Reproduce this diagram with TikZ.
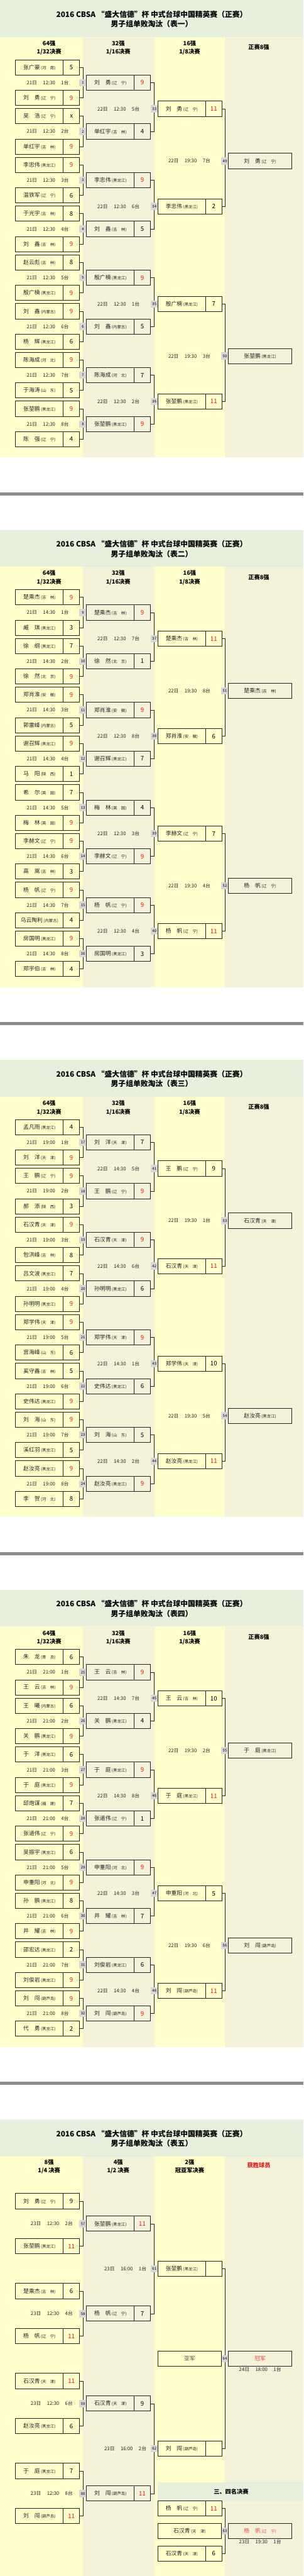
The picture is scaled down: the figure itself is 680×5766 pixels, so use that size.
\documentclass[tikz,border=0pt]{standalone}
\usepackage{fontspec}
\newfontfamily\cjk{Noto Sans CJK SC}
\usetikzlibrary{positioning}
\definecolor{bandgreen}{RGB}{231,239,221}
\definecolor{lightyellow}{RGB}{255,255,204}
\definecolor{beige}{RGB}{244,243,217}
\definecolor{numgray}{RGB}{215,215,215}
\definecolor{sepgray}{RGB}{140,140,140}
\definecolor{winred}{RGB}{228,24,24}
\definecolor{softred}{RGB}{226,72,72}
\definecolor{ink}{RGB}{35,35,35}
\newcommand{\win}[1]{\textcolor{winred}{#1}}
\newcommand{\pl}[2]{{\fontsize{6.2}{6.2}\selectfont #1}\hspace{1pt}{\fontsize{4.5}{4.5}\selectfont(#2)}}

\begin{document}
\begin{tikzpicture}[x=0.5pt,y=-0.5pt,
    name box/.style={draw=ink,line width=0.7pt,minimum width=53.5pt,minimum height=17pt,
      inner sep=0pt,outer sep=0pt,font=\cjk,text=ink},
    score box/.style={draw=ink,line width=0.7pt,minimum width=18pt,minimum height=17pt,
      inner sep=0pt,outer sep=0pt,font=\cjk\fontsize{6.8}{6.8}\selectfont,text=black},
    wide box/.style={name box,minimum width=71pt},
    match no/.style={fill=numgray,minimum size=8pt,inner sep=0pt,outer sep=0pt,
      font=\cjk\fontsize{4.2}{4.2}\selectfont},
    date text/.style={font=\cjk\fontsize{5.5}{5.5}\selectfont,text=ink,inner sep=0pt},
    bracket line/.style={draw=ink,line width=0.55pt},
    title text/.style={align=center,font=\cjk\bfseries\fontsize{8.3}{11}\selectfont},
    head text/.style={align=center,font=\cjk\bfseries\fontsize{6.5}{9.5}\selectfont}]

  \useasboundingbox (0,0) rectangle (680,5766);

  % panel backgrounds and titles
  \foreach \pan/\tabno in {0/一,1/二,2/三,3/四,4/五}{
    \pgfmathsetmacro\yoff{1186*\pan}
    \fill[bandgreen] (0,\yoff) rectangle (680,\yoff+83);
    \fill[lightyellow] (0,\yoff+83) rectangle (186,\yoff+1024);
    \fill[beige] (186,\yoff+83) rectangle (346,\yoff+1024);
    \fill[lightyellow] (346,\yoff+83) rectangle (504,\yoff+1024);
    \fill[beige] (504,\yoff+83) rectangle (680,\yoff+1024);
    \node[title text] (title\pan) at (340,\yoff+43)
      {2016 CBSA “盛大信德”杯 中式台球中国精英赛（正赛）\\男子组单败淘汰（表\tabno）};
  }
  \foreach \pan in {0,...,3}{
    \fill[sepgray] (0,1186*\pan+1102) rectangle (680,1186*\pan+1109);
    \node[head text] (hA\pan) at (110,1186*\pan+107.5) {64强\\1/32决赛};
    \node[head text] (hB\pan) at (265,1186*\pan+107.5) {32强\\1/16决赛};
    \node[head text] (hC\pan) at (425,1186*\pan+107.5) {16强\\1/8决赛};
    \node[head text] (hD\pan) at (580,1186*\pan+106) {正赛8强};
  }
  \node[head text] (hA4) at (110,4744+105.5) {8强\\1/4 决赛};
  \node[head text] (hB4) at (265,4744+105.5) {4强\\1/2 决赛};
  \node[head text] (hC4) at (425,4744+105.5) {2强\\冠亚军决赛};
  \node[head text,text=winred] (hD4) at (580,4744+103) {获胜球员};

  % 1/32 finals
  \foreach \mn/\nmA/\pvA/\scA/\nmB/\pvB/\scB/\tm in {
    1/张广豪/河　南/5/刘　勇/辽　宁/\win{9}/12:30,
    2/吴　浩/辽　宁/x/单红宇/吉　林/\win{9}/12:30,
    3/李忠伟/黑龙江/\win{9}/温铁军/辽　宁/6/12:30,
    4/于光宇/吉　林/8/刘　鑫/吉　林/\win{9}/12:30,
    5/赵云彪/吉　林/8/殷广楠/黑龙江/\win{9}/12:30,
    6/刘　鑫/内蒙古/\win{9}/杨　辉/黑龙江/6/12:30,
    7/陈海成/河　北/\win{9}/于海涛/山　东/5/12:30,
    8/张堃鹏/黑龙江/\win{9}/陈　强/辽　宁/4/12:30,
    9/楚乘杰/吉　林/\win{9}/臧　琪/黑龙江/3/14:30,
    10/徐　纲/黑龙江/7/徐　然/北　京/\win{9}/14:30,
    11/郑肖淮/安　徽/\win{9}/郭雷峰/内蒙古/5/14:30,
    12/谢召辉/黑龙江/\win{9}/马　阳/陕　西/1/14:30,
    13/希　尔/英　国/7/梅　林/英　国/\win{9}/14:30,
    14/李赫文/辽　宁/\win{9}/高　嵩/吉　林/3/14:30,
    15/杨　帆/辽　宁/\win{9}/乌云陶利/内蒙古/4/14:30,
    16/房国明/黑龙江/\win{9}/郑宇伯/吉　林/4/14:30,
    17/孟凡雨/黑龙江/4/刘　洋/天　津/\win{9}/19:00,
    18/王　鹏/辽　宁/\win{9}/郝　添/陕　西/3/19:00,
    19/石汉青/天　津/\win{9}/包洪峰/吉　林/8/19:00,
    20/吕文波/黑龙江/7/孙明明/黑龙江/\win{9}/19:00,
    21/郑学伟/天　津/\win{9}/宫海峰/山　东/6/19:00,
    22/奚守鑫/吉　林/5/史伟达/黑龙江/\win{9}/19:00,
    23/刘　海/山　东/\win{9}/溪红羽/黑龙江/5/19:00,
    24/赵汝亮/黑龙江/\win{9}/李　贺/河　北/8/19:00,
    25/朱　龙/青　岛/6/王　云/吉　林/\win{9}/21:00,
    26/王　曦/内蒙古/6/关　鹏/黑龙江/\win{9}/21:00,
    27/于　洋/黑龙江/6/于　庭/黑龙江/\win{9}/21:00,
    28/邱炮谋/福　建/7/张道伟/辽　宁/\win{9}/21:00,
    29/吴振宇/黑龙江/6/申重阳/河　北/\win{9}/21:00,
    30/孙　鹏/黑龙江/8/井　耀/吉　林/\win{9}/21:00,
    31/邵宏达/黑龙江/2/刘俊岩/黑龙江/\win{9}/21:00,
    32/刘　闯/葫芦岛/\win{9}/代　勇/黑龙江/2/21:00}{
    \pgfmathtruncatemacro\pan{(\mn-1)/8}
    \pgfmathtruncatemacro\row{mod(\mn-1,8)}
    \pgfmathtruncatemacro\tbl{\row+1}
    \pgfmathsetmacro\yn{1186*\pan+185+109.15*\row}
    \node[name box] (a\mn) at (88.5,\yn-34) {\pl{\nmA}{\pvA}};
    \node[score box,right=0pt of a\mn] (as\mn) {\scA};
    \node[name box] (b\mn) at (88.5,\yn+34) {\pl{\nmB}{\pvB}};
    \node[score box,right=0pt of b\mn] (bs\mn) {\scB};
    \node[match no] (n\mn) at (186,\yn) {\mn};
    \node[date text] (d\mn) at (107,\yn) {21日\hspace{1.2em}\tm\hspace{1.2em}\tbl 台};
    \draw[bracket line] (as\mn.east) -| (n\mn.north);
    \draw[bracket line] (bs\mn.east) -| (n\mn.south);
  }

  % 1/4 finals (table five)
  \foreach \mn/\nmA/\pvA/\scA/\nmB/\pvB/\scB/\tbl in {
    57/刘　勇/辽　宁/9/张堃鹏/黑龙江/\win{11}/2,
    58/楚乘杰/吉　林/6/杨　帆/辽　宁/\win{11}/4,
    59/石汉青/天　津/\win{11}/赵汝亮/黑龙江/6/6,
    60/于　庭/黑龙江/7/刘　闯/葫芦岛/\win{11}/8}{
    \pgfmathtruncatemacro\row{\mn-57}
    \pgfmathsetmacro\yn{4744+233.5+201.3*\row}
    \node[name box] (a\mn) at (88.5,\yn-50.5) {\pl{\nmA}{\pvA}};
    \node[score box,right=0pt of a\mn] (as\mn) {\scA};
    \node[name box] (b\mn) at (88.5,\yn+50.5) {\pl{\nmB}{\pvB}};
    \node[score box,right=0pt of b\mn] (bs\mn) {\scB};
    \node[match no] (n\mn) at (186,\yn) {\mn};
    \node[date text] (d\mn) at (116,\yn) {23日\hspace{1.2em}12:30\hspace{1.2em}\tbl 台};
    \draw[bracket line] (as\mn.east) -| (n\mn.north);
    \draw[bracket line] (bs\mn.east) -| (n\mn.south);
  }

  % second column boxes
  \foreach \wi/\nm/\pv/\sc in {
    1/刘　勇/辽　宁/\win{9}, 2/单红宇/吉　林/4, 3/李忠伟/黑龙江/\win{9}, 4/刘　鑫/吉　林/5,
    5/殷广楠/黑龙江/\win{9}, 6/刘　鑫/内蒙古/5, 7/陈海成/河　北/7, 8/张堃鹏/黑龙江/\win{9},
    9/楚乘杰/吉　林/\win{9}, 10/徐　然/北　京/1, 11/郑肖淮/安　徽/\win{9}, 12/谢召辉/黑龙江/7,
    13/梅　林/英　国/4, 14/李赫文/辽　宁/\win{9}, 15/杨　帆/辽　宁/\win{9}, 16/房国明/黑龙江/3,
    17/刘　洋/天　津/7, 18/王　鹏/辽　宁/\win{9}, 19/石汉青/天　津/\win{9}, 20/孙明明/黑龙江/6,
    21/郑学伟/天　津/\win{9}, 22/史伟达/黑龙江/6, 23/刘　海/山　东/5, 24/赵汝亮/黑龙江/\win{9},
    25/王　云/吉　林/\win{9}, 26/关　鹏/黑龙江/4, 27/于　庭/黑龙江/\win{9}, 28/张道伟/辽　宁/1,
    29/申重阳/河　北/\win{9}, 30/井　耀/吉　林/7, 31/刘俊岩/黑龙江/6, 32/刘　闯/葫芦岛/\win{9},
    57/张堃鹏/黑龙江/\win{11}, 58/杨　帆/辽　宁/7, 59/石汉青/天　津/9, 60/刘　闯/葫芦岛/\win{11}}{
    \node[name box,right=0pt of n\wi] (w\wi) {\pl{\nm}{\pv}};
    \node[score box,right=0pt of w\wi] (ws\wi) {\sc};
  }

  % 1/16 finals
  \foreach \jj/\tm/\tbl in {1/12:30/5,2/12:30/6,3/12:30/1,4/12:30/2,5/12:30/7,6/12:30/8,
    7/12:30/3,8/12:30/4,9/14:30/5,10/14:30/6,11/14:30/1,12/14:30/2,13/14:30/7,14/14:30/8,
    15/14:30/3,16/14:30/4}{
    \pgfmathtruncatemacro\mn{32+\jj}
    \pgfmathtruncatemacro\pan{(\jj-1)/4}
    \pgfmathtruncatemacro\row{mod(\jj-1,4)}
    \pgfmathtruncatemacro\wa{2*\jj-1}
    \pgfmathtruncatemacro\wb{2*\jj}
    \pgfmathsetmacro\yn{1186*\pan+243.6+218.3*\row}
    \node[match no] (n\mn) at (346,\yn) {\mn};
    \node[date text] (d\mn) at (265.6,\yn) {22日\hspace{1.2em}\tm\hspace{1.2em}\tbl 台};
    \draw[bracket line] (ws\wa.east) -| (n\mn.north);
    \draw[bracket line] (ws\wb.east) -| (n\mn.south);
  }
  \node[match no] (n61) at (346,5078) {61};
  \node[date text] (d61) at (281,5078) {23日\hspace{1.2em}16:00\hspace{1.2em}1台};
  \node[match no] (n62) at (346,5481) {62};
  \node[date text] (d62) at (281,5481) {23日\hspace{1.2em}16:00\hspace{1.2em}2台};
  \draw[bracket line] (ws57.east) -| (n61.north);
  \draw[bracket line] (ws58.east) -| (n61.south);
  \draw[bracket line] (ws59.east) -| (n62.north);
  \draw[bracket line] (ws60.east) -| (n62.south);

  % third column boxes
  \foreach \wi/\nm/\pv/\sc in {
    33/刘　勇/辽　宁/\win{11}, 34/李忠伟/黑龙江/2, 35/殷广楠/黑龙江/7, 36/张堃鹏/黑龙江/\win{11},
    37/楚乘杰/吉　林/\win{11}, 38/郑肖淮/安　徽/6, 39/李赫文/辽　宁/7, 40/杨　帆/辽　宁/\win{11},
    41/王　鹏/辽　宁/9, 42/石汉青/天　津/\win{11}, 43/郑学伟/天　津/10, 44/赵汝亮/黑龙江/\win{11},
    45/王　云/吉　林/10, 46/于　庭/黑龙江/\win{11}, 47/申重阳/河　北/5, 48/刘　闯/葫芦岛/\win{11}}{
    \node[name box,right=0pt of n\wi] (w\wi) {\pl{\nm}{\pv}};
    \node[score box,right=0pt of w\wi] (ws\wi) {\sc};
  }
  \node[name box,right=0pt of n61] (w61) {\pl{张堃鹏}{黑龙江}};
  \node[score box,right=0pt of w61] (ws61) {};
  \node[name box,right=0pt of n62] (w62) {\pl{刘　闯}{葫芦岛}};
  \node[score box,right=0pt of w62] (ws62) {};

  % 1/8 finals
  \foreach \qq/\tbl in {1/7,2/3,3/8,4/4,5/1,6/5,7/2,8/6}{
    \pgfmathtruncatemacro\mn{48+\qq}
    \pgfmathtruncatemacro\pan{(\qq-1)/2}
    \pgfmathtruncatemacro\row{mod(\qq-1,2)}
    \pgfmathtruncatemacro\wa{31+2*\qq}
    \pgfmathtruncatemacro\wb{32+2*\qq}
    \pgfmathsetmacro\yn{1186*\pan+360.3+436.6*\row}
    \node[match no] (n\mn) at (504,\yn) {\mn};
    \node[date text] (d\mn) at (424.4,\yn) {22日\hspace{1.2em}19:30\hspace{1.2em}\tbl 台};
    \draw[bracket line] (ws\wa.east) -| (n\mn.north);
    \draw[bracket line] (ws\wb.east) -| (n\mn.south);
  }
  \foreach \wi/\nm/\pv in {49/刘　勇/辽　宁, 50/张堃鹏/黑龙江, 51/楚乘杰/吉　林, 52/杨　帆/辽　宁,
    53/石汉青/天　津, 54/赵汝亮/黑龙江, 55/于　庭/黑龙江, 56/刘　闯/葫芦岛}{
    \node[wide box,right=0pt of n\wi] (w\wi) {\pl{\nm}{\pv}};
  }

  % final
  \node[match no] (n64) at (504,5279.5) {64};
  \node[wide box,left=0pt of n64,text=ink!80] (runnerup) {{\fontsize{6.2}{6.2}\selectfont 亚军}};
  \node[wide box,right=0pt of n64,text=softred] (champ) {{\fontsize{6.2}{6.2}\selectfont 冠军}};
  \node[date text,below=0.5pt of champ] (d64) {24日\hspace{1.2em}18:00\hspace{1.2em}1台};
  \draw[bracket line] (ws61.east) -| (n64.north);
  \draw[bracket line] (ws62.east) -| (n64.south);

  % third place
  \fill[bandgreen] (354,5556) rectangle (680,5598);
  \node[head text] (thirdhead) at (518,5577) {三、四名决赛};
  \node[name box] (t1) at (407.5,5615) {\pl{杨　帆}{辽　宁}};
  \node[score box,right=0pt of t1] (ts1) {\win{11}};
  \node[name box] (t3) at (407.5,5716) {\pl{石汉青}{天　津}};
  \node[score box,right=0pt of t3] (ts3) {6};
  \node[match no] (n63) at (504,5665.5) {63};
  \node[wide box,left=0pt of n63] (t2) {\pl{石汉青}{天　津}};
  \node[wide box,right=0pt of n63,text=softred] (bronze) {\pl{杨　帆}{辽　宁}};
  \node[date text,below=0.5pt of bronze] (d63) {23日\hspace{1.2em}19:30\hspace{1.2em}1台};
  \draw[bracket line] (ts1.east) -| (n63.north);
  \draw[bracket line] (ts3.east) -| (n63.south);
\end{tikzpicture}
\end{document}
